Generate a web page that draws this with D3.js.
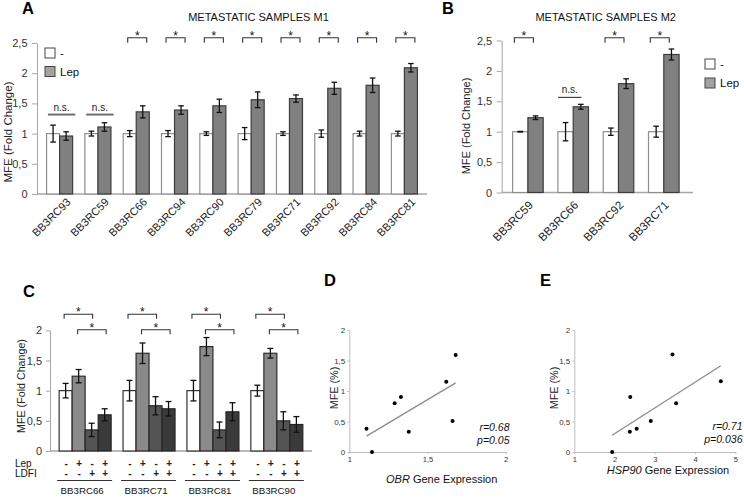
<!DOCTYPE html>
<html><head><meta charset="utf-8">
<script src="https://cdn.jsdelivr.net/npm/d3@7"></script>
<style>
body{margin:0;background:#fff;}
svg{display:block;font-family:"Liberation Sans",Arial,sans-serif;}
</style></head>
<body>
<svg id="chart" width="744" height="499"></svg>
<script>
// ---------- DATA ----------
const samplesA = ["BB3RC93","BB3RC59","BB3RC66","BB3RC94","BB3RC90","BB3RC79","BB3RC71","BB3RC92","BB3RC84","BB3RC81"];
const ctrlA    = [1,1,1,1,1,1,1,1,1,1];
const ctrlErrA = [0.14,0.04,0.05,0.05,0.03,0.10,0.03,0.06,0.04,0.04];
const lepA     = [0.96,1.11,1.36,1.39,1.46,1.56,1.58,1.75,1.80,2.09];
const lepErrA  = [0.07,0.07,0.10,0.07,0.11,0.13,0.06,0.10,0.12,0.07];
const sigA     = ["n.s.","n.s.","*","*","*","*","*","*","*","*"];

const samplesB = ["BB3RC59","BB3RC66","BB3RC92","BB3RC71"];
const ctrlB    = [1,1,1,1];
const ctrlErrB = [0.005,0.15,0.06,0.09];
const lepB     = [1.23,1.41,1.79,2.27];
const lepErrB  = [0.03,0.04,0.08,0.09];
const sigB     = ["*","n.s.","*","*"];

const legendLabels = ["-","Lep"];
const ticksAB = [0,0.5,1,1.5,2,2.5];

const samplesC    = ["BB3RC66","BB3RC71","BB3RC81","BB3RC90"];
const condC       = ["ctrl","lep","ldfi","lepLdfi"];
const ctrlC       = [1,1,1,1];
const ctrlErrC    = [0.12,0.17,0.17,0.09];
const lepC        = [1.24,1.62,1.73,1.62];
const lepErrC     = [0.11,0.17,0.15,0.08];
const ldfiC       = [0.35,0.75,0.35,0.50];
const ldfiErrC    = [0.11,0.15,0.13,0.15];
const lepLdfiC    = [0.60,0.70,0.65,0.44];
const lepLdfiErrC = [0.10,0.12,0.15,0.13];
const lepSigns    = ["-","+","-","+"];
const ldfiSigns   = ["-","-","+","+"];
const ticksC = [0,0.5,1,1.5,2];

const obrX  = [1.11,1.145,1.29,1.33,1.38,1.62,1.66,1.68];
const mfeD  = [0.38,0,0.80,0.90,0.33,1.15,0.51,1.59];
const hspX  = [1.94,2.39,2.38,2.55,2.90,3.44,3.53,4.64];
const mfeE  = [0,0.90,0.33,0.38,0.51,1.60,0.80,1.16];
const ticksDEy = [0,0.5,1,1.5,2];
const ticksDx = [1,1.5,2];
const ticksEx = [1,2,3,4,5];
const statsD = ["r=0.68","p=0.05"];
const statsE = ["r=0.71","p=0.036"];

// ---------- HELPERS ----------
const svg = d3.select("#chart");
const fmt = v => d3.format(".1~f")(v).replace(".", ",");
const AX = "#a6a6a6";

function yAxis(x, scale, ticks, size, pad, fs, col){
  const g = svg.append("g").attr("transform",`translate(${x},0)`)
    .call(d3.axisLeft(scale).tickValues(ticks).tickSize(size).tickPadding(pad).tickSizeOuter(0).tickFormat(fmt));
  g.select(".domain").attr("stroke", col||AX);
  g.selectAll(".tick line").attr("stroke", col||AX);
  g.selectAll(".tick text").attr("fill","#333").style("font-size",fs+"px").style("font-family","Liberation Sans, Arial, sans-serif");
  return g;
}
function xAxisLine(y, x0, x1){
  svg.append("line").attr("x1",x0).attr("x2",x1).attr("y1",y).attr("y2",y).attr("stroke",AX).attr("stroke-width",1.3);
}
function errBar(cx, y, yTop, yBot, cap){
  const g = svg.append("g").attr("stroke","#111").attr("stroke-width",1.3);
  g.append("line").attr("x1",cx).attr("x2",cx).attr("y1",yTop).attr("y2",yBot);
  g.append("line").attr("x1",cx-cap).attr("x2",cx+cap).attr("y1",yTop).attr("y2",yTop);
  g.append("line").attr("x1",cx-cap).attr("x2",cx+cap).attr("y1",yBot).attr("y2",yBot);
}
function bracket(x0, x1, y, h, label, fs){
  svg.append("path").attr("d",`M${x0},${y+h}V${y}H${x1}V${y+h}`).attr("fill","none").attr("stroke","#333").attr("stroke-width",1.1);
  svg.append("text").attr("x",(x0+x1)/2).attr("y",y+2).attr("text-anchor","middle").style("font-size",fs+"px").attr("fill","#111").text(label);
}
function text(x,y,t,opts){
  const e = svg.append("text").attr("x",x).attr("y",y).text(t);
  Object.entries(opts||{}).forEach(([k,v])=> (k.startsWith("font")||k==="fill"||k==="text-anchor") ? e.attr(k,v) : e.style(k,v));
  return e;
}
function vLabel(x,y,t,fs){
  svg.append("text").attr("transform",`translate(${x},${y}) rotate(-90)`).attr("text-anchor","middle")
    .style("font-size",fs+"px").attr("fill","#222").text(t);
}

// ---------- PANEL A & B (two-bar groups) ----------
function pairPanel(cfg){
  const {samples, ctrl, ctrlErr, lep, lepErr, sig, xRange, yRange, axisX, axisEnd, labFs, labDx, labY, bracketY, bracketHalf, bracketDx, nsLevel, nsHalf, nsDx, nsStroke, nsW} = cfg;
  const y = d3.scaleLinear().domain([0,2.5]).range(yRange);
  const x = d3.scaleBand().domain(samples).range(xRange).paddingInner(cfg.pi).paddingOuter(cfg.po);
  const sub = d3.scaleBand().domain(["ctrl","lep"]).range([0,x.bandwidth()]);
  yAxis(axisX, y, ticksAB, 5, 4.5, 11);
  xAxisLine(y(0), axisX, axisEnd);
  samples.forEach((s,i)=>{
    const x0 = x(s);
    [["ctrl",ctrl[i],ctrlErr[i]],["lep",lep[i],lepErr[i]]].forEach(([k,v,e])=>{
      svg.append("rect").attr("x",x0+sub(k)).attr("y",y(v)).attr("width",sub.bandwidth()).attr("height",y(0)-y(v))
        .attr("fill", k==="ctrl" ? "#fff" : "#808080")
        .attr("stroke", k==="ctrl" ? "#8f8f8f" : "#3d3d3d").attr("stroke-width",1.2);
    });
    [["ctrl",ctrl[i],ctrlErr[i]],["lep",lep[i],lepErr[i]]].forEach(([k,v,e])=>{
      errBar(x0+sub(k)+sub.bandwidth()/2, y(v), y(v+e), y(v-e), 2.8);
    });
    const cx = x0 + x.bandwidth()/2;
    if (sig[i]==="*") bracket(cx+bracketDx-bracketHalf, cx+bracketDx+bracketHalf, bracketY, 5, "*", 12);
    else {
      const ly = y(nsLevel);
      svg.append("line").attr("x1",cx+nsDx-nsHalf).attr("x2",cx+nsDx+nsHalf).attr("y1",ly).attr("y2",ly)
        .attr("stroke",nsStroke).attr("stroke-width",nsW);
      svg.append("text").attr("x",cx+nsDx).attr("y",ly-4).attr("text-anchor","middle").style("font-size","10px").attr("fill","#222").text(sig[i]);
    }
    svg.append("text").attr("transform",`translate(${cx+labDx},${labY}) rotate(-45)`).attr("text-anchor","end")
      .attr("dy","0.35em").style("font-size",labFs+"px").attr("fill","#222").text(s);
  });
}

pairPanel({samples:samplesA, ctrl:ctrlA, ctrlErr:ctrlErrA, lep:lepA, lepErr:lepErrA, sig:sigA,
  xRange:[37,427], pi:0.32, po:0.25, yRange:[194,43], axisX:37, axisEnd:427,
  labFs:11, labDx:9, labY:200, bracketY:37.7, bracketHalf:9.5, bracketDx:1,
  nsLevel:1.315, nsHalf:13.7, nsDx:2, nsStroke:"#6e6e6e", nsW:2});
pairPanel({samples:samplesB, ctrl:ctrlB, ctrlErr:ctrlErrB, lep:lepB, lepErr:lepErrB, sig:sigB,
  xRange:[501.7,690], pi:0.325, po:0.241, yRange:[192.5,40.5], axisX:501.7, axisEnd:693,
  labFs:11.5, labDx:3, labY:203, bracketY:37.7, bracketHalf:9.5, bracketDx:-4,
  nsLevel:1.565, nsHalf:11.7, nsDx:-3.5, nsStroke:"#222", nsW:1});

// titles, labels, legends
text(258.5,20.5,"METASTATIC SAMPLES M1",{"text-anchor":"middle","font-size":"11px","fill":"#111"});
text(605.7,20.5,"METASTATIC SAMPLES M2",{"text-anchor":"middle","font-size":"11px","fill":"#111"});
vLabel(11.5,132,"MFE (Fold Change)",11.5);
vLabel(469.5,126,"MFE (Fold Change)",11);
text(22,14,"A",{"font-size":"16.5px","font-weight":"bold","fill":"#000"});
text(442,14,"B",{"font-size":"16.5px","font-weight":"bold","fill":"#000"});

function legend(x, y0, gap, fs){
  legendLabels.forEach((l,i)=>{
    svg.append("rect").attr("x",x).attr("y",y0+i*gap).attr("width",10).attr("height",10)
      .attr("fill", i===0 ? "#fff" : "#a3a3a3").attr("stroke","#444").attr("stroke-width",1);
    svg.append("text").attr("x",x+15).attr("y",y0+i*gap+5).attr("dy","0.35em").style("font-size",fs+"px").attr("fill","#111").text(l);
  });
}
legend(45,48,18.5,11.5);
legend(705,59,19,11.5);

// ---------- PANEL C ----------
{
  const y = d3.scaleLinear().domain([0,2]).range([451,330.3]);
  const x = d3.scaleBand().domain(samplesC).range([50,312]).paddingInner(0.186).paddingOuter(0.143);
  const sub = d3.scaleBand().domain(condC).range([0,x.bandwidth()]);
  yAxis(50, y, ticksC, 4, 4, 11);
  xAxisLine(y(0), 50, 312);
  const vals = {ctrl:ctrlC, lep:lepC, ldfi:ldfiC, lepLdfi:lepLdfiC};
  const errs = {ctrl:ctrlErrC, lep:lepErrC, ldfi:ldfiErrC, lepLdfi:lepLdfiErrC};
  const fills = {ctrl:"#ffffff", lep:"#8a8a8a", ldfi:"#545454", lepLdfi:"#3a3a3a"};
  samplesC.forEach((s,i)=>{
    const x0 = x(s);
    condC.forEach(c=>{
      const v = vals[c][i];
      svg.append("rect").attr("x",x0+sub(c)).attr("y",y(v)).attr("width",sub.bandwidth()).attr("height",y(0)-y(v))
        .attr("fill",fills[c]).attr("stroke","#222").attr("stroke-width",1.1);
    });
    condC.forEach(c=>{
      const v = vals[c][i], e = errs[c][i];
      errBar(x0+sub(c)+sub.bandwidth()/2, y(v), y(v+e), y(v-e), 3);
    });
    const cc = c => x0+sub(c)+sub.bandwidth()/2;
    bracket(cc("ctrl")-1.5, cc("ldfi")+1, 314.3, 4.5, "*", 12);
    bracket(cc("lep")-1, cc("lepLdfi")+1.5, 329.7, 4.5, "*", 12);
    condC.forEach((c,j)=>{
      svg.append("text").attr("x",cc(c)+0.5).attr("y",463).attr("dy","0.35em").attr("text-anchor","middle")
        .style("font-size","10px").style("font-weight","bold").attr("fill","#222").text(lepSigns[j]);
      svg.append("text").attr("x",cc(c)+0.5).attr("y",473).attr("dy","0.35em").attr("text-anchor","middle")
        .style("font-size","10px").style("font-weight","bold").attr("fill","#222").text(ldfiSigns[j]);
    });
    svg.append("line").attr("x1",x0-2).attr("x2",x0+x.bandwidth()+1).attr("y1",480.5).attr("y2",480.5).attr("stroke","#333").attr("stroke-width",1);
    svg.append("text").attr("x",x0+x.bandwidth()/2-3).attr("y",491).attr("dy","0.35em").attr("text-anchor","middle")
      .style("font-size","9.7px").attr("fill","#111").text(s);
  });
  text(15,463,"Lep",{"font-size":"10px","fill":"#111"}).attr("dy","0.35em");
  text(15,473,"LDFI",{"font-size":"10px","fill":"#111"}).attr("dy","0.35em");
  vLabel(25,386,"MFE (Fold Change)",10.7);
  text(23,297,"C",{"font-size":"16.5px","font-weight":"bold","fill":"#000"});
}

// ---------- PANELS D & E ----------
function scatter(cfg){
  const {xs, ys, xDom, xRange, xTicks, yRange, stats, statX, statY, xLab, xLabX, xLabY, yLabX} = cfg;
  const x = d3.scaleLinear().domain(xDom).range(xRange);
  const y = d3.scaleLinear().domain([0,2]).range(yRange);
  yAxis(xRange[0], y, ticksDEy, 2, 2, 8, "#bdbdbd");
  const gx = svg.append("g").attr("transform",`translate(0,${y(0)})`)
    .call(d3.axisBottom(x).tickValues(xTicks).tickSize(2).tickPadding(3).tickSizeOuter(0).tickFormat(fmt));
  gx.select(".domain").attr("stroke","#bdbdbd");
  gx.selectAll(".tick line").attr("stroke","#bdbdbd");
  gx.selectAll(".tick text").attr("fill","#333").style("font-size","7.5px").style("font-family","Liberation Sans, Arial, sans-serif");
  // least-squares trend line from the points
  const mx = d3.mean(xs), my = d3.mean(ys);
  const slope = d3.sum(xs.map((v,i)=>(v-mx)*(ys[i]-my))) / d3.sum(xs.map(v=>(v-mx)**2));
  const [x0,x1] = d3.extent(xs);
  const f = v => my + slope*(v-mx);
  svg.append("line").attr("x1",x(x0)).attr("x2",x(x1)).attr("y1",y(f(x0))).attr("y2",y(f(x1)))
    .attr("stroke","#8c8c8c").attr("stroke-width",1.3);
  xs.forEach((v,i)=> svg.append("circle").attr("cx",x(v)).attr("cy",y(ys[i])).attr("r",2).attr("fill","#000"));
  stats.forEach((t,i)=> svg.append("text").attr("x",statX).attr("y",statY+i*13.2).attr("text-anchor","end")
    .style("font-size","10.5px").style("font-style","italic").attr("fill","#111").text(t));
  const lt = svg.append("text").attr("x",xLabX).attr("y",xLabY).attr("text-anchor","middle").style("font-size","11px").attr("fill","#111");
  lt.append("tspan").style("font-style","italic").text(xLab);
  lt.append("tspan").text(" Gene Expression");
  vLabel(yLabX,388,"MFE (%)",10.8);
}
scatter({xs:obrX, ys:mfeD, xDom:[1,2], xRange:[349.3,505.7], xTicks:ticksDx, yRange:[452,330],
  stats:statsD, statX:509.5, statY:430.5, xLab:"OBR", xLabX:441.7, xLabY:482.5, yLabX:338});
scatter({xs:hspX, ys:mfeE, xDom:[1,5], xRange:[574.3,735.3], xTicks:ticksEx, yRange:[452,330],
  stats:statsE, statX:742.5, statY:429.5, xLab:"HSP90", xLabX:668, xLabY:474, yLabX:558});
text(324,286,"D",{"font-size":"16.5px","font-weight":"bold","fill":"#000"});
text(540,286,"E",{"font-size":"16.5px","font-weight":"bold","fill":"#000"});
</script>
</body></html>
